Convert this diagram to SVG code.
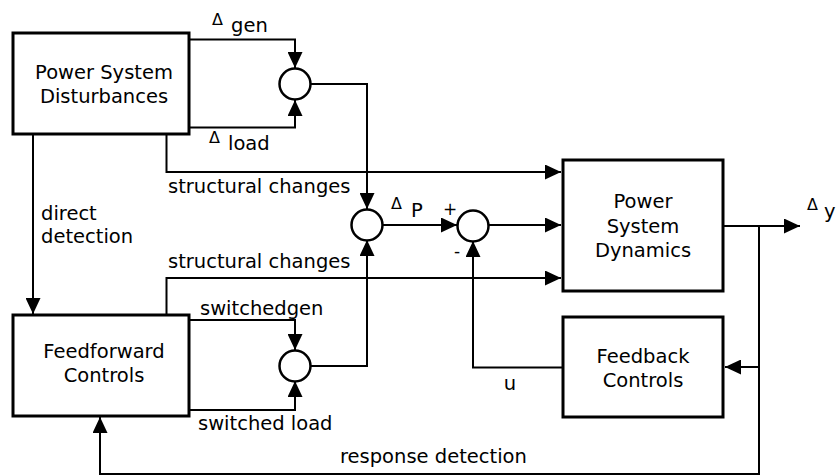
<svg xmlns="http://www.w3.org/2000/svg" width="839" height="476" viewBox="0 0 839 476">
<defs>
<marker id="ah" viewBox="0 0 16 15" markerWidth="16" markerHeight="15" refX="16" refY="7.5" orient="auto" markerUnits="userSpaceOnUse">
<path d="M0,0 L16,7.5 L0,15 Z" fill="#000"/>
</marker>
<style>
.box{fill:#fff;stroke:#000;stroke-width:3}
.sum{fill:#fff;stroke:#000;stroke-width:2.5}
.arr{fill:none;stroke:#000;stroke-width:2;marker-end:url(#ah)}
text{font-family:"DejaVu Sans","Verdana",sans-serif;font-size:19.5px;fill:#000}
.c{text-anchor:middle}
.d{font-size:16px}
.s{font-size:17px}
</style>
</defs>
<rect width="839" height="476" fill="#fff"/>
<g id="connectors">
<path class="arr" d="M189,39.5 H295 V68"/>
<path class="arr" d="M189,127.5 H295 V100"/>
<path class="arr" d="M310,84 H367 V209"/>
<path class="arr" d="M166.5,134 V172 H561"/>
<path class="arr" d="M33,134 V314"/>
<path class="arr" d="M382,225 H457"/>
<path class="arr" d="M488,225 H561"/>
<path class="arr" d="M723,226 H800"/>
<path class="arr" d="M759,226 V367 H725"/>
<path class="arr" d="M759,367 V474 H100 V417"/>
<path class="arr" d="M563,367.5 H473 V241"/>
<path class="arr" d="M166.5,315 V278 H561"/>
<path class="arr" d="M189,320 H295 V350"/>
<path class="arr" d="M189,410 H295 V381"/>
<path class="arr" d="M310,366 H367 V240"/>
</g>
<g id="psd"><rect class="box" x="13" y="33" width="176" height="101"/>
<text class="c" x="104" y="79">Power System</text><text class="c" x="104" y="103">Disturbances</text></g>
<g id="sum1"><circle class="sum" cx="295" cy="84" r="15.5"/></g>
<g id="sum2"><circle class="sum" cx="367" cy="225" r="15.5"/></g>
<g id="sum3"><circle class="sum" cx="473" cy="226" r="15.5"/></g>
<g id="sum4"><circle class="sum" cx="295" cy="366" r="15.5"/></g>
<g id="psdyn"><rect class="box" x="563" y="160" width="160" height="131"/>
<text class="c" x="643" y="208">Power</text><text class="c" x="643" y="233">System</text><text class="c" x="643" y="257">Dynamics</text></g>
<g id="ff"><rect class="box" x="13" y="315" width="176" height="101"/>
<text class="c" x="104" y="358">Feedforward</text><text class="c" x="104" y="382">Controls</text></g>
<g id="fb"><rect class="box" x="563" y="317" width="160" height="100"/>
<text class="c" x="643" y="363">Feedback</text><text class="c" x="643" y="387">Controls</text></g>
<g id="labels">
<text class="d" x="212" y="25">Δ</text><text x="231" y="32">gen</text>
<text class="d" x="209" y="143">Δ</text><text x="228" y="150">load</text>
<text x="168" y="193">structural changes</text>
<text x="41" y="220">direct</text><text x="41" y="243">detection</text>
<text class="d" x="391" y="209">Δ</text><text x="411" y="217">P</text>
<text class="s" x="450" y="215" text-anchor="middle">+</text>
<text class="s" x="457" y="257" text-anchor="middle">-</text>
<text class="d" x="807" y="210">Δ</text><text x="824" y="218">y</text>
<text x="168" y="268">structural changes</text>
<text x="200" y="315">switchedgen</text>
<text x="198" y="430">switched load</text>
<text x="510" y="390" text-anchor="middle">u</text>
<text x="340" y="463">response detection</text>
</g>
</svg>
